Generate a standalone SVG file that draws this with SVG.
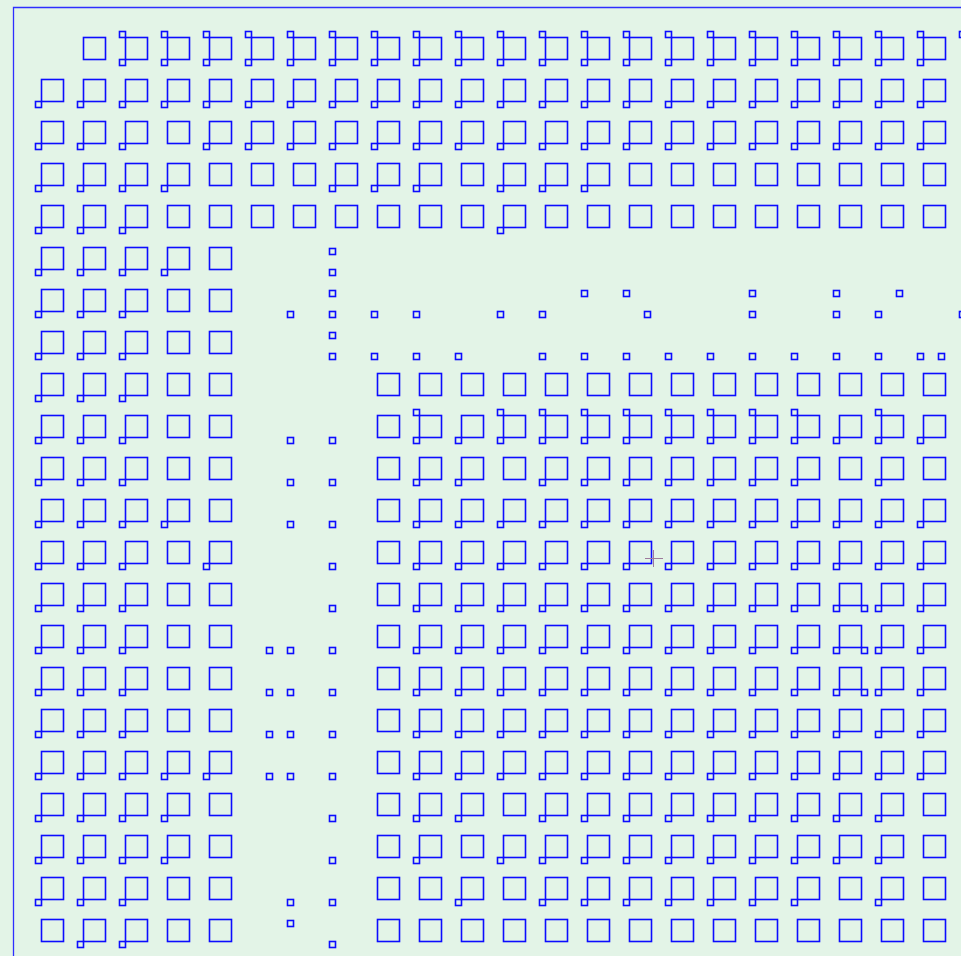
<svg xmlns="http://www.w3.org/2000/svg" xmlns:xlink="http://www.w3.org/1999/xlink" width="961" height="956" viewBox="0 0 961 956">
<style>
.lay{fill:none;stroke:#0c0cff;stroke-width:1.6}
.frame{fill:none;stroke:#2e2eff;stroke-width:1.3}
.cross{stroke:#9c7a9c;stroke-width:1}
</style>
<defs>
<rect id="p" width="6" height="6"/>
<rect id="S" width="22" height="22"/>
<g id="B"><rect width="22" height="22"/><rect x="-6" y="22" width="6" height="6"/></g>
<g id="T"><rect width="22" height="22"/><rect x="-6" y="-6" width="6" height="6"/><rect x="-6" y="22" width="6" height="6"/></g>
<g id="R"><rect width="22" height="22"/><rect x="-6" y="22" width="6" height="6"/><rect x="22" y="22" width="6" height="6"/></g>
</defs>
<rect width="961" height="956" fill="#e3f4e7"/>
<path class="frame" d="M13.5 956V7.5H961"/>
<g class="lay" transform="translate(0.5,0.5)">
<g id="row0" transform="translate(0,37)"><use href="#S" x="83"/><use href="#T" x="125"/><use href="#T" x="167"/><use href="#T" x="209"/><use href="#T" x="251"/><use href="#T" x="293"/><use href="#T" x="335"/><use href="#T" x="377"/><use href="#T" x="419"/><use href="#T" x="461"/><use href="#T" x="503"/><use href="#T" x="545"/><use href="#T" x="587"/><use href="#T" x="629"/><use href="#T" x="671"/><use href="#T" x="713"/><use href="#T" x="755"/><use href="#T" x="797"/><use href="#T" x="839"/><use href="#T" x="881"/><use href="#T" x="923"/></g>
<g id="row1" transform="translate(0,79)"><use href="#B" x="41"/><use href="#B" x="83"/><use href="#B" x="125"/><use href="#B" x="167"/><use href="#B" x="209"/><use href="#B" x="251"/><use href="#B" x="293"/><use href="#B" x="335"/><use href="#B" x="377"/><use href="#B" x="419"/><use href="#B" x="461"/><use href="#B" x="503"/><use href="#B" x="545"/><use href="#B" x="587"/><use href="#B" x="629"/><use href="#B" x="671"/><use href="#B" x="713"/><use href="#B" x="755"/><use href="#B" x="797"/><use href="#B" x="839"/><use href="#B" x="881"/><use href="#B" x="923"/></g>
<g id="row2" transform="translate(0,121)"><use href="#B" x="41"/><use href="#B" x="83"/><use href="#B" x="125"/><use href="#S" x="167"/><use href="#B" x="209"/><use href="#B" x="251"/><use href="#B" x="293"/><use href="#B" x="335"/><use href="#B" x="377"/><use href="#B" x="419"/><use href="#B" x="461"/><use href="#B" x="503"/><use href="#B" x="545"/><use href="#B" x="587"/><use href="#B" x="629"/><use href="#B" x="671"/><use href="#B" x="713"/><use href="#B" x="755"/><use href="#B" x="797"/><use href="#B" x="839"/><use href="#B" x="881"/><use href="#B" x="923"/></g>
<g id="row3" transform="translate(0,163)"><use href="#B" x="41"/><use href="#B" x="83"/><use href="#B" x="125"/><use href="#B" x="167"/><use href="#S" x="209"/><use href="#S" x="251"/><use href="#S" x="293"/><use href="#B" x="335"/><use href="#B" x="377"/><use href="#B" x="419"/><use href="#S" x="461"/><use href="#B" x="503"/><use href="#B" x="545"/><use href="#B" x="587"/><use href="#S" x="629"/><use href="#S" x="671"/><use href="#S" x="713"/><use href="#S" x="755"/><use href="#S" x="797"/><use href="#S" x="839"/><use href="#S" x="881"/><use href="#S" x="923"/></g>
<g id="row4" transform="translate(0,205)"><use href="#B" x="41"/><use href="#B" x="83"/><use href="#B" x="125"/><use href="#S" x="167"/><use href="#S" x="209"/><use href="#S" x="251"/><use href="#S" x="293"/><use href="#S" x="335"/><use href="#S" x="377"/><use href="#S" x="419"/><use href="#S" x="461"/><use href="#B" x="503"/><use href="#S" x="545"/><use href="#S" x="587"/><use href="#S" x="629"/><use href="#S" x="671"/><use href="#S" x="713"/><use href="#S" x="755"/><use href="#S" x="797"/><use href="#S" x="839"/><use href="#S" x="881"/><use href="#S" x="923"/></g>
<g id="row5" transform="translate(0,247)"><use href="#B" x="41"/><use href="#B" x="83"/><use href="#B" x="125"/><use href="#B" x="167"/><use href="#S" x="209"/></g>
<g id="row6" transform="translate(0,289)"><use href="#B" x="41"/><use href="#B" x="83"/><use href="#B" x="125"/><use href="#S" x="167"/><use href="#S" x="209"/></g>
<g id="row7" transform="translate(0,331)"><use href="#B" x="41"/><use href="#B" x="83"/><use href="#B" x="125"/><use href="#S" x="167"/><use href="#S" x="209"/></g>
<g id="row8" transform="translate(0,373)"><use href="#B" x="41"/><use href="#B" x="83"/><use href="#B" x="125"/><use href="#S" x="167"/><use href="#S" x="209"/><use href="#S" x="377"/><use href="#S" x="419"/><use href="#S" x="461"/><use href="#S" x="503"/><use href="#S" x="545"/><use href="#S" x="587"/><use href="#S" x="629"/><use href="#S" x="671"/><use href="#S" x="713"/><use href="#S" x="755"/><use href="#S" x="797"/><use href="#S" x="839"/><use href="#S" x="881"/><use href="#S" x="923"/></g>
<g id="row9" transform="translate(0,415)"><use href="#B" x="41"/><use href="#B" x="83"/><use href="#B" x="125"/><use href="#S" x="167"/><use href="#S" x="209"/><use href="#S" x="377"/><use href="#T" x="419"/><use href="#B" x="461"/><use href="#T" x="503"/><use href="#T" x="545"/><use href="#T" x="587"/><use href="#T" x="629"/><use href="#T" x="671"/><use href="#T" x="713"/><use href="#T" x="755"/><use href="#T" x="797"/><use href="#B" x="839"/><use href="#T" x="881"/><use href="#B" x="923"/></g>
<g id="row10" transform="translate(0,457)"><use href="#B" x="41"/><use href="#B" x="83"/><use href="#B" x="125"/><use href="#S" x="167"/><use href="#S" x="209"/><use href="#S" x="377"/><use href="#B" x="419"/><use href="#B" x="461"/><use href="#S" x="503"/><use href="#B" x="545"/><use href="#B" x="587"/><use href="#B" x="629"/><use href="#B" x="671"/><use href="#B" x="713"/><use href="#B" x="755"/><use href="#B" x="797"/><use href="#S" x="839"/><use href="#B" x="881"/><use href="#S" x="923"/></g>
<g id="row11" transform="translate(0,499)"><use href="#B" x="41"/><use href="#B" x="83"/><use href="#B" x="125"/><use href="#B" x="167"/><use href="#S" x="209"/><use href="#S" x="377"/><use href="#B" x="419"/><use href="#B" x="461"/><use href="#B" x="503"/><use href="#B" x="545"/><use href="#B" x="587"/><use href="#B" x="629"/><use href="#B" x="671"/><use href="#B" x="713"/><use href="#B" x="755"/><use href="#B" x="797"/><use href="#B" x="839"/><use href="#B" x="881"/><use href="#B" x="923"/></g>
<g id="row12" transform="translate(0,541)"><use href="#B" x="41"/><use href="#B" x="83"/><use href="#B" x="125"/><use href="#S" x="167"/><use href="#B" x="209"/><use href="#S" x="377"/><use href="#B" x="419"/><use href="#B" x="461"/><use href="#B" x="503"/><use href="#B" x="545"/><use href="#B" x="587"/><use href="#B" x="629"/><use href="#B" x="671"/><use href="#B" x="713"/><use href="#B" x="755"/><use href="#B" x="797"/><use href="#B" x="839"/><use href="#B" x="881"/><use href="#B" x="923"/></g>
<g id="row13" transform="translate(0,583)"><use href="#B" x="41"/><use href="#B" x="83"/><use href="#B" x="125"/><use href="#S" x="167"/><use href="#S" x="209"/><use href="#S" x="377"/><use href="#B" x="419"/><use href="#B" x="461"/><use href="#B" x="503"/><use href="#B" x="545"/><use href="#B" x="587"/><use href="#B" x="629"/><use href="#B" x="671"/><use href="#B" x="713"/><use href="#B" x="755"/><use href="#B" x="797"/><use href="#R" x="839"/><use href="#B" x="881"/><use href="#B" x="923"/></g>
<g id="row14" transform="translate(0,625)"><use href="#B" x="41"/><use href="#B" x="83"/><use href="#B" x="125"/><use href="#S" x="167"/><use href="#S" x="209"/><use href="#S" x="377"/><use href="#B" x="419"/><use href="#B" x="461"/><use href="#B" x="503"/><use href="#B" x="545"/><use href="#B" x="587"/><use href="#B" x="629"/><use href="#B" x="671"/><use href="#B" x="713"/><use href="#B" x="755"/><use href="#B" x="797"/><use href="#R" x="839"/><use href="#B" x="881"/><use href="#B" x="923"/></g>
<g id="row15" transform="translate(0,667)"><use href="#B" x="41"/><use href="#B" x="83"/><use href="#B" x="125"/><use href="#S" x="167"/><use href="#S" x="209"/><use href="#S" x="377"/><use href="#B" x="419"/><use href="#B" x="461"/><use href="#B" x="503"/><use href="#B" x="545"/><use href="#B" x="587"/><use href="#B" x="629"/><use href="#B" x="671"/><use href="#B" x="713"/><use href="#B" x="755"/><use href="#B" x="797"/><use href="#R" x="839"/><use href="#B" x="881"/><use href="#B" x="923"/></g>
<g id="row16" transform="translate(0,709)"><use href="#B" x="41"/><use href="#B" x="83"/><use href="#B" x="125"/><use href="#S" x="167"/><use href="#S" x="209"/><use href="#S" x="377"/><use href="#B" x="419"/><use href="#B" x="461"/><use href="#B" x="503"/><use href="#B" x="545"/><use href="#B" x="587"/><use href="#B" x="629"/><use href="#B" x="671"/><use href="#B" x="713"/><use href="#B" x="755"/><use href="#B" x="797"/><use href="#B" x="839"/><use href="#B" x="881"/><use href="#B" x="923"/></g>
<g id="row17" transform="translate(0,751)"><use href="#B" x="41"/><use href="#B" x="83"/><use href="#B" x="125"/><use href="#B" x="167"/><use href="#B" x="209"/><use href="#S" x="377"/><use href="#B" x="419"/><use href="#B" x="461"/><use href="#B" x="503"/><use href="#B" x="545"/><use href="#B" x="587"/><use href="#B" x="629"/><use href="#B" x="671"/><use href="#B" x="713"/><use href="#B" x="755"/><use href="#B" x="797"/><use href="#B" x="839"/><use href="#B" x="881"/><use href="#B" x="923"/></g>
<g id="row18" transform="translate(0,793)"><use href="#B" x="41"/><use href="#B" x="83"/><use href="#B" x="125"/><use href="#B" x="167"/><use href="#S" x="209"/><use href="#S" x="377"/><use href="#B" x="419"/><use href="#B" x="461"/><use href="#S" x="503"/><use href="#B" x="545"/><use href="#B" x="587"/><use href="#B" x="629"/><use href="#B" x="671"/><use href="#B" x="713"/><use href="#B" x="755"/><use href="#B" x="797"/><use href="#B" x="839"/><use href="#B" x="881"/><use href="#S" x="923"/></g>
<g id="row19" transform="translate(0,835)"><use href="#B" x="41"/><use href="#B" x="83"/><use href="#B" x="125"/><use href="#B" x="167"/><use href="#S" x="209"/><use href="#S" x="377"/><use href="#B" x="419"/><use href="#S" x="461"/><use href="#B" x="503"/><use href="#B" x="545"/><use href="#B" x="587"/><use href="#B" x="629"/><use href="#B" x="671"/><use href="#B" x="713"/><use href="#B" x="755"/><use href="#B" x="797"/><use href="#B" x="839"/><use href="#B" x="881"/><use href="#S" x="923"/></g>
<g id="row20" transform="translate(0,877)"><use href="#B" x="41"/><use href="#B" x="83"/><use href="#B" x="125"/><use href="#S" x="167"/><use href="#S" x="209"/><use href="#S" x="377"/><use href="#S" x="419"/><use href="#B" x="461"/><use href="#S" x="503"/><use href="#B" x="545"/><use href="#B" x="587"/><use href="#B" x="629"/><use href="#B" x="671"/><use href="#B" x="713"/><use href="#B" x="755"/><use href="#B" x="797"/><use href="#S" x="839"/><use href="#B" x="881"/><use href="#S" x="923"/></g>
<g id="row21" transform="translate(0,919)"><use href="#S" x="41"/><use href="#B" x="83"/><use href="#B" x="125"/><use href="#S" x="167"/><use href="#S" x="209"/><use href="#S" x="377"/><use href="#S" x="419"/><use href="#S" x="461"/><use href="#S" x="503"/><use href="#S" x="545"/><use href="#S" x="587"/><use href="#S" x="629"/><use href="#S" x="671"/><use href="#S" x="713"/><use href="#S" x="755"/><use href="#S" x="797"/><use href="#S" x="839"/><use href="#S" x="881"/><use href="#S" x="923"/></g>
<g id="vias">
<use href="#p" x="959" y="31"/>
<use href="#p" x="329" y="248"/><use href="#p" x="329" y="269"/><use href="#p" x="329" y="290"/><use href="#p" x="329" y="311"/><use href="#p" x="329" y="332"/><use href="#p" x="329" y="353"/>
<use href="#p" x="581" y="290"/><use href="#p" x="623" y="290"/><use href="#p" x="749" y="290"/><use href="#p" x="833" y="290"/><use href="#p" x="896" y="290"/>
<use href="#p" x="287" y="311"/><use href="#p" x="371" y="311"/><use href="#p" x="413" y="311"/><use href="#p" x="497" y="311"/><use href="#p" x="539" y="311"/><use href="#p" x="644" y="311"/><use href="#p" x="749" y="311"/><use href="#p" x="833" y="311"/><use href="#p" x="875" y="311"/><use href="#p" x="959" y="311"/>
<use href="#p" x="371" y="353"/><use href="#p" x="413" y="353"/><use href="#p" x="455" y="353"/><use href="#p" x="539" y="353"/><use href="#p" x="581" y="353"/><use href="#p" x="623" y="353"/><use href="#p" x="665" y="353"/><use href="#p" x="707" y="353"/><use href="#p" x="749" y="353"/><use href="#p" x="791" y="353"/><use href="#p" x="833" y="353"/><use href="#p" x="875" y="353"/><use href="#p" x="917" y="353"/><use href="#p" x="938" y="353"/>
<use href="#p" x="287" y="437"/><use href="#p" x="329" y="437"/>
<use href="#p" x="287" y="479"/><use href="#p" x="329" y="479"/>
<use href="#p" x="287" y="521"/><use href="#p" x="329" y="521"/>
<use href="#p" x="329" y="563"/>
<use href="#p" x="329" y="605"/>
<use href="#p" x="266" y="647"/><use href="#p" x="287" y="647"/><use href="#p" x="329" y="647"/>
<use href="#p" x="266" y="689"/><use href="#p" x="287" y="689"/><use href="#p" x="329" y="689"/>
<use href="#p" x="266" y="731"/><use href="#p" x="287" y="731"/><use href="#p" x="329" y="731"/>
<use href="#p" x="266" y="773"/><use href="#p" x="287" y="773"/><use href="#p" x="329" y="773"/>
<use href="#p" x="329" y="815"/>
<use href="#p" x="329" y="857"/>
<use href="#p" x="287" y="899"/><use href="#p" x="329" y="899"/>
<use href="#p" x="287" y="920"/>
<use href="#p" x="329" y="941"/>
</g>
</g>
<path class="cross" d="M645 558.5H663M653.5 550V567"/>
</svg>
